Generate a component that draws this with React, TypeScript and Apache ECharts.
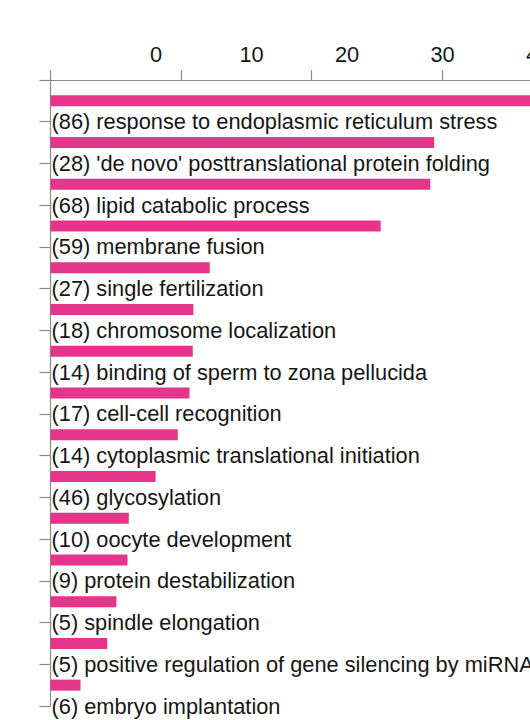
import { useEffect, useRef } from "react";
import * as echarts from "echarts";

const categories = [
  "(86) response to endoplasmic reticulum stress",
  "(28) 'de novo' posttranslational protein folding",
  "(68) lipid catabolic process",
  "(59) membrane fusion",
  "(27) single fertilization",
  "(18) chromosome localization",
  "(14) binding of sperm to zona pellucida",
  "(17) cell-cell recognition",
  "(14) cytoplasmic translational initiation",
  "(46) glycosylation",
  "(10) oocyte development",
  "(9) protein destabilization",
  "(5) spindle elongation",
  "(5) positive regulation of gene silencing by miRNA",
  "(6) embryo implantation",
];

// bar lengths, read against the tick marks of the top axis
const barValues = [
  40, 29.4, 29.1, 25.3, 12.2, 10.95, 10.9, 10.65, 9.75, 8.05, 6.0, 5.9, 5.05,
  4.35, 2.3,
];

const tickLabels = ["0", "10", "20", "30", "40"];

const AXIS_GRAY = "#8c8c8c";
const BAR_PINK = "#e5358a";
const TEXT = "#161616";
const FONT = "'Liberation Sans', Arial, Helvetica, sans-serif";
const FONT_SIZE = 21.8;

export default function App() {
  const chartRef = useRef<HTMLDivElement>(null);

  useEffect(() => {
    if (!chartRef.current) return;

    const chart = echarts.init(chartRef.current, null, { renderer: "svg" });

    chart.setOption({
      animation: false,
      grid: [
        // plot area, runs past the right edge like the cropped original
        { left: 50.5, top: 80, width: 522, height: 626 },
        // only carries the top tick labels
        { left: 156, top: 80, width: 382, height: 626 },
      ],
      xAxis: [
        {
          type: "value",
          gridIndex: 0,
          position: "top",
          min: 0,
          max: 40,
          interval: 10,
          axisLine: { show: true, lineStyle: { color: AXIS_GRAY, width: 1.2 } },
          axisTick: {
            show: true,
            length: 10,
            lineStyle: { color: AXIS_GRAY, width: 1.2 },
          },
          axisLabel: { show: false },
          splitLine: { show: false },
        },
        {
          type: "category",
          gridIndex: 1,
          position: "top",
          data: tickLabels,
          boundaryGap: false,
          axisLine: { show: false },
          axisTick: { show: false },
          axisLabel: {
            show: true,
            interval: 0,
            margin: 15,
            color: TEXT,
            fontSize: FONT_SIZE,
            fontFamily: FONT,
          },
          splitLine: { show: false },
        },
      ],
      yAxis: [
        {
          // bars and the band-edge ticks
          type: "category",
          gridIndex: 0,
          position: "left",
          data: categories,
          inverse: true,
          axisLine: { show: true, lineStyle: { color: AXIS_GRAY, width: 1.2 } },
          axisTick: {
            show: true,
            length: 11,
            lineStyle: { color: AXIS_GRAY, width: 1.2 },
          },
          axisLabel: { show: false },
          splitLine: { show: false },
        },
        {
          // names sit on the band edges, under their bars
          type: "category",
          gridIndex: 0,
          position: "left",
          data: ["", ...categories],
          inverse: true,
          boundaryGap: false,
          axisLine: { show: false },
          axisTick: { show: false },
          axisLabel: {
            inside: true,
            interval: 0,
            margin: 1,
            color: TEXT,
            fontSize: FONT_SIZE,
            fontFamily: FONT,
          },
          splitLine: { show: false },
        },
        { type: "value", gridIndex: 1, show: false },
      ],
      series: [
        {
          type: "bar",
          xAxisIndex: 0,
          yAxisIndex: 0,
          data: barValues,
          barWidth: 11,
          silent: true,
          itemStyle: { color: BAR_PINK },
        },
      ],
    });

    return () => {
      chart.dispose();
    };
  }, []);

  return (
    <div
      style={{
        position: "fixed",
        left: 0,
        top: 0,
        width: 530,
        height: 720,
        overflow: "hidden",
        background: "#ffffff",
      }}
    >
      <div ref={chartRef} style={{ width: 620, height: 720 }} />
    </div>
  );
}
